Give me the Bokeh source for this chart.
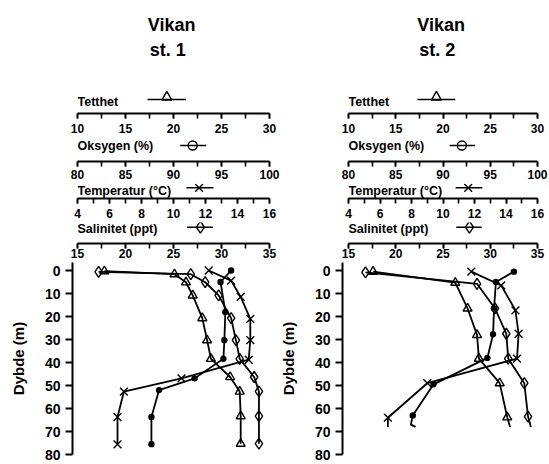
from bokeh.plotting import figure
from bokeh.layouts import column, row
from bokeh.models import Range1d, SingleIntervalTicker, FixedTicker
from bokeh.embed import file_html
from bokeh.resources import INLINE
from bokeh.core.properties import value

FONT = "Liberation Sans"

# ---------------- axis scales / tick labels ----------------
dens_lim = [10, 30]
oxy_lim = [80, 100]
temp_lim = [4, 16]
sal_lim = [15, 35]
depth_ticks = [0, 10, 20, 30, 40, 50, 60, 70, 80]
axis_names = ["Tetthet", "Oksygen (%)", "Temperatur (°C)", "Salinitet (ppt)"]
station_titles = [["Vikan", "st. 1"], ["Vikan", "st. 2"]]
depth_label = "Dybde (m)"

# ---------------- Vikan st. 1 ----------------
dens1_depth = [0.3, 1.6, 5.1, 10.8, 20.7, 30.3, 38.4, 46.3, 52.6, 63.3, 75.3]
dens1 = [12.8, 20.1, 21.3, 22.0, 23.0, 23.5, 23.9, 25.9, 26.9, 27.0, 27.0]
sal1_depth = [0.6, 1.6, 5.1, 10.8, 20.7, 30.3, 38.4, 46.3, 52.6, 63.3, 75.3]
sal1 = [17.2, 26.8, 28.3, 29.7, 31.0, 31.5, 31.9, 33.4, 33.9, 33.9, 33.9]
temp1_depth = [0.0, 4.4, 11.5, 21.0, 30.3, 38.8, 46.9, 52.7, 63.7, 75.6]
temp1 = [12.2, 13.6, 14.2, 14.8, 14.8, 14.7, 10.5, 6.9, 6.5, 6.5]
oxy1_depth = [0.0, 5.0, 18.0, 30.3, 38.4, 46.9, 52.0, 63.7, 75.5]
oxy1 = [96.0, 94.9, 95.4, 95.3, 95.2, 92.2, 88.5, 87.7, 87.7]

# ---------------- Vikan st. 2 ----------------
dens2_depth = [0.5, 5.3, 16.5, 28.0, 38.3, 49.0, 63.8, 68.0]
dens2 = [12.6, 21.3, 22.6, 23.6, 23.8, 26.0, 26.8, 27.1]
sal2_depth = [0.8, 5.8, 16.5, 27.5, 38.3, 49.0, 63.5, 68.0]
sal2 = [16.8, 28.6, 30.5, 31.7, 31.9, 33.6, 34.0, 34.3]
temp2_depth = [0.5, 6.5, 17.3, 27.5, 38.3, 49.0, 64.0, 68.0]
temp2 = [11.8, 13.7, 14.6, 14.8, 14.7, 9.0, 6.5, 6.5]
oxy2_depth = [0.5, 5.0, 16.5, 27.7, 38.0, 49.5, 63.0, 67.0, 68.0]
oxy2 = [97.5, 95.6, 95.4, 95.3, 94.7, 89.0, 86.8, 86.6, 87.1]

# (values, depths, number of points carrying a marker)
stations = [
    dict(dens=(dens1, dens1_depth, 11), sal=(sal1, sal1_depth, 11),
         temp=(temp1, temp1_depth, 10), oxy=(oxy1, oxy1_depth, 9)),
    dict(dens=(dens2, dens2_depth, 7), sal=(sal2, sal2_depth, 7),
         temp=(temp2, temp2_depth, 7), oxy=(oxy2, oxy2_depth, 7)),
]

# ---------------- layout geometry ----------------
STRIP_H = [137, 46, 39, 40]
STRIP_BB = [24, 22, 24, 19]
STRIP_STANDOFF = [5, 3, 5, 0]
MAIN_H, MAIN_TOP, MAIN_BB = 201, 0, 9
P_STRIP = [dict(width=280, left=77, right=11), dict(width=268, left=68, right=11)]
P_MAIN = [dict(width=276, left=72, right=7), dict(width=272, left=66, right=11)]
PAGE_X_STRIP = [0, 280]
PAGE_X_MAIN = [0, 276]
DEPTH_TOP = -3.48

strip_specs = [
    dict(lim=dens_lim, iv=5, text_y=11.3, line_y=14.0, mark_y=16.3, marker="triangle", size=10,
         sx=(17.3, 21.3, 19.3)),
    dict(lim=oxy_lim, iv=5, text_y=16.0, line_y=16.0, mark_y=16.0, marker="circle", size=9,
         sx=(90.7, 93.4, 92.0)),
    dict(lim=temp_lim, iv=2, text_y=8.0, line_y=10.7, mark_y=10.7, marker="x", size=11,
         sx=(10.8, 12.5, 11.6)),
    dict(lim=sal_lim, iv=5, text_y=14.7, line_y=16.3, mark_y=16.3, marker="diamond", size=12,
         sx=(26.4, 29.1, 27.8)),
]


def clean(p):
    p.outline_line_color = None
    p.xgrid.visible = False
    p.ygrid.visible = False
    p.background_fill_color = "white"
    p.border_fill_color = "white"


def make_strip(k, i):
    g = P_STRIP[k]
    s = strip_specs[i]
    fh = STRIP_H[i] - STRIP_BB[i]
    p = figure(width=g["width"], height=STRIP_H[i], x_range=Range1d(*s["lim"]),
               y_range=Range1d(0, fh), y_axis_type=None, title=None,
               min_border_left=g["left"], min_border_right=g["right"],
               min_border_top=0, min_border_bottom=STRIP_BB[i],
               output_backend="svg", toolbar_location=None)
    clean(p)
    ax = p.xaxis[0]
    ax.ticker = SingleIntervalTicker(interval=s["iv"], num_minor_ticks=2)
    ax.axis_line_width = 2
    ax.axis_line_color = "black"
    ax.major_tick_line_width = 1.6
    ax.minor_tick_line_width = 1.6
    ax.major_tick_out = 5
    ax.minor_tick_out = 5
    ax.major_tick_in = 0
    ax.minor_tick_in = 0
    ax.major_label_standoff = STRIP_STANDOFF[i]
    ax.major_label_text_font = FONT
    ax.major_label_text_font_size = "12px"
    ax.major_label_text_font_style = "bold"
    ax.major_label_text_color = "black"
    lo = s["lim"][0]
    p.text(x=[lo], y=[s["text_y"]], text=[axis_names[i]], text_font=value(FONT),
           text_font_size=value("12.5px"), text_font_style="bold", text_color="black",
           text_align="left", text_baseline="middle")
    x0, x1, xm = s["sx"]
    p.line(x=[x0, x1], y=[s["line_y"], s["line_y"]], line_color="black", line_width=1.6)
    p.scatter(x=[xm], y=[s["mark_y"]], marker=s["marker"], size=s["size"],
              fill_color=None, line_color="black", line_width=1.4)
    if i == 0:
        t1, t2 = station_titles[k]
        p.text(x=[19.8], y=[88.5], text=[t1], text_font=value(FONT),
               text_font_size=value("18px"), text_font_style="bold", text_color="black",
               text_align="center", text_baseline="middle")
        p.text(x=[19.4], y=[63.5], text=[t2], text_font=value(FONT),
               text_font_size=value("18px"), text_font_style="bold", text_color="black",
               text_align="center", text_baseline="middle")
    return p


def make_main(k):
    g = P_MAIN[k]
    gs = P_STRIP[k]
    strip_fw = gs["width"] - gs["left"] - gs["right"]
    off = (PAGE_X_STRIP[k] + gs["left"]) - (PAGE_X_MAIN[k] + g["left"])

    def ext(lim):
        return Range1d(lim[0] - off / strip_fw * (lim[1] - lim[0]), lim[1])

    p = figure(width=g["width"], height=MAIN_H, x_range=ext(sal_lim),
               y_range=Range1d(80, DEPTH_TOP), x_axis_type=None, title=None,
               min_border_left=g["left"], min_border_right=g["right"],
               min_border_top=MAIN_TOP, min_border_bottom=MAIN_BB,
               output_backend="svg", toolbar_location=None)
    clean(p)
    p.extra_x_ranges = {"dens": ext(dens_lim), "oxy": ext(oxy_lim), "temp": ext(temp_lim)}
    ax = p.yaxis[0]
    ax.ticker = FixedTicker(ticks=depth_ticks)
    ax.axis_line_width = 2
    ax.major_tick_line_width = 2
    ax.major_tick_out = 7
    ax.major_tick_in = 0
    ax.minor_tick_out = 0
    ax.minor_tick_in = 0
    ax.major_label_standoff = 5
    ax.major_label_text_font = FONT
    ax.major_label_text_font_size = "14px"
    ax.major_label_text_font_style = "bold"
    ax.major_label_text_color = "black"
    ax.axis_label = depth_label
    ax.axis_label_text_font = FONT
    ax.axis_label_text_font_size = "15px"
    ax.axis_label_text_font_style = "bold"
    ax.axis_label_text_color = "black"
    ax.axis_label_standoff = 15
    st = stations[k]
    series = [
        ("dens", "dens", "triangle", 9, None),
        ("sal", "default", "diamond", 11, None),
        ("temp", "temp", "x", 11, None),
        ("oxy", "oxy", "circle", 5, "black"),
    ]
    for key, rng, marker, size, fill in series:
        vals, depth, n = st[key]
        p.line(x=vals, y=depth, x_range_name=rng, line_color="black", line_width=1.8)
        p.scatter(x=vals[:n], y=depth[:n], x_range_name=rng, marker=marker, size=size,
                  fill_color=fill, line_color="black", line_width=1.4)
    return p


rows = []
for i in range(4):
    rows.append(row(make_strip(0, i), make_strip(1, i)))
rows.append(row(make_main(0), make_main(1)))
layout = column(*rows)

open("out.html", "w").write(file_html(layout, INLINE))
